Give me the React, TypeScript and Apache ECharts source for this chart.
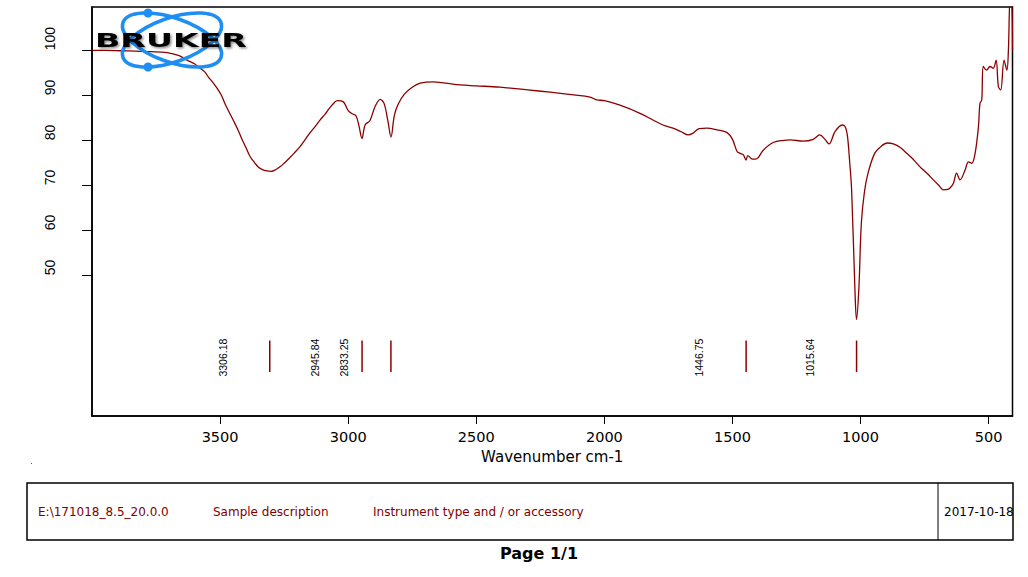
import React, { useEffect, useRef } from "react";
import * as echarts from "echarts";

// Spectrum (wavenumber cm-1 -> transmittance %)
const wavenumbers = [
  4000, 3950, 3890, 3830, 3773, 3707, 3660, 3629, 3600, 3578, 3560, 3545, 3530, 3512, 3495, 3480,
  3465, 3449, 3430, 3415, 3400, 3383, 3365, 3350, 3335, 3317, 3300, 3285, 3266, 3250, 3230, 3210,
  3188, 3170, 3150, 3130, 3110, 3090, 3075, 3060, 3043, 3020, 3000, 2985, 2970, 2958, 2946, 2934,
  2915, 2895, 2875, 2860, 2845, 2833, 2820, 2805, 2780, 2750, 2719, 2669, 2620, 2563, 2500, 2407,
  2300, 2212, 2120, 2056, 2030, 2000, 1939, 1861, 1771, 1732, 1700, 1673, 1654, 1630, 1600, 1560,
  1521, 1500, 1482, 1470, 1458, 1447, 1440, 1422, 1405, 1380, 1341, 1300, 1275, 1224, 1185, 1159,
  1139, 1123, 1100, 1072, 1060, 1051, 1043, 1035, 1022, 1016, 1007, 997, 985, 971, 945, 919,
  895, 872, 845, 820, 795, 768, 740, 716, 695, 677, 660, 651, 638, 625, 612, 592,
  579, 566, 553, 540, 534, 527, 521, 508, 495, 482, 471, 462, 453, 440, 429, 423,
  416, 410, 407,
];
const transmittance = [
  100.0, 100.0, 99.9, 99.8, 99.7, 99.5, 98.8, 97.8, 97.0, 96.0, 95.2, 94.0, 93.0, 91.6, 90.0, 88.0,
  86.3, 84.5, 82.3, 80.3, 78.5, 76.4, 75.0, 74.0, 73.5, 73.2, 73.1, 73.4, 74.1, 74.9, 76.0, 77.2,
  78.6, 80.0, 81.6, 83.0, 84.5, 85.8, 87.0, 88.0, 88.8, 88.6, 86.6, 85.9, 85.5, 83.2, 80.4, 83.4,
  84.4, 87.5, 89.1, 88.2, 84.3, 80.7, 85.5, 88.0, 90.3, 91.8, 92.7, 93.0, 92.7, 92.3, 92.1, 91.8,
  91.2, 90.7, 90.1, 89.6, 89.0, 88.8, 87.8, 86.0, 83.4, 82.7, 81.9, 81.2, 81.6, 82.6, 82.7, 82.3,
  81.7, 80.2, 77.5, 77.1, 76.8, 75.6, 76.6, 75.8, 75.9, 77.8, 79.5, 80.0, 80.1, 79.8, 80.2, 81.2,
  80.2, 79.2, 81.9, 83.4, 83.0, 80.8, 75.5, 69.0, 46.7, 40.2, 46.7, 61.6, 68.5, 72.7, 77.1, 78.7,
  79.4, 79.2, 78.4, 77.1, 75.8, 74.1, 72.6, 71.2, 70.0, 69.0, 69.1, 69.4, 70.4, 72.7, 71.2, 73.4,
  75.2, 74.9, 77.1, 83.0, 88.2, 89.0, 96.4, 95.6, 96.4, 96.0, 97.8, 91.9, 91.2, 97.8, 95.6, 100.0,
  112.0, 111.0, 100.0,
];

const peakPositions = [3306.18, 2945.84, 2833.25, 1446.75, 1015.64];
const peakLabels = ["3306.18", "2945.84", "2833.25", "1446.75", "1015.64"];

const xTicks = [3500, 3000, 2500, 2000, 1500, 1000, 500];
const yTicks = [50, 60, 70, 80, 90, 100];

const xAxisTitle = "Wavenumber cm-1";
const footerFile = "E:\\171018_8.5_20.0.0";
const footerSample = "Sample description";
const footerInstrument = "Instrument type and / or accessory";
const footerDate = "2017-10-18";
const pageLabel = "Page 1/1";
const logoText = "BRUKER";

const LINE_COLOR = "#8b0000";
const LOGO_BLUE = "#1e8ef2";
const SANS = '"DejaVu Sans", "Liberation Sans", Arial, sans-serif';
const ARIAL = '"Liberation Sans", Arial, sans-serif';

export default function App() {
  const ref = useRef<HTMLDivElement>(null);

  useEffect(() => {
    if (!ref.current) return;
    const chart = echarts.init(ref.current, null, { renderer: "svg" });

    const spectrum = wavenumbers.map((w, i) => [w, transmittance[i]]);

    const option: any = {
      animation: false,
      backgroundColor: "#ffffff",
      grid: {
        left: 92,
        right: 15.5,
        top: 7,
        bottom: 161,
        show: true,
        borderColor: "#000",
        borderWidth: 1.5,
        containLabel: false,
        outerBoundsMode: "none",
      },
      xAxis: {
        type: "value",
        inverse: true,
        min: 407,
        max: 4000,
        name: xAxisTitle,
        nameLocation: "middle",
        nameGap: 33,
        nameTextStyle: { fontFamily: SANS, fontSize: 15, color: "#000" },
        axisLine: { show: true, onZero: false, lineStyle: { color: "#000", width: 1.5 } },
        axisTick: {
          show: true,
          inside: false,
          length: 8,
          customValues: xTicks,
          lineStyle: { color: "#000", width: 1 },
        },
        axisLabel: {
          show: true,
          customValues: xTicks,
          formatter: (v: number) => String(v),
          margin: 13,
          fontFamily: SANS,
          fontSize: 14.5,
          color: "#000",
        },
        splitLine: { show: false },
      },
      yAxis: {
        type: "value",
        min: 18.73,
        max: 109.62,
        axisLine: { show: true, onZero: false, lineStyle: { color: "#000", width: 1.5 } },
        axisTick: {
          show: true,
          inside: false,
          length: 10,
          customValues: yTicks,
          lineStyle: { color: "#000", width: 1 },
        },
        axisLabel: {
          show: true,
          customValues: yTicks,
          formatter: (v: number) => String(v),
          rotate: 90,
          align: "left",
          verticalAlign: "bottom",
          margin: 35,
          fontFamily: ARIAL,
          fontSize: 14,
          color: "#000",
        },
        splitLine: { show: false },
      },
      series: [
        {
          type: "line",
          data: spectrum,
          showSymbol: false,
          smooth: 0.35,
          clip: true,
          lineStyle: { color: LINE_COLOR, width: 1.3 },
          itemStyle: { color: LINE_COLOR },
          silent: true,
          z: 2,
        },
        {
          type: "custom",
          data: peakPositions.map((p) => [p, 31.7]),
          clip: false,
          silent: true,
          z: 3,
          renderItem: (params: any, api: any) => {
            const wn = api.value(0);
            const top = api.coord([wn, 35.5]);
            const bot = api.coord([wn, 28.5]);
            const mid = api.coord([wn, 31.7]);
            return {
              type: "group",
              children: [
                {
                  type: "line",
                  shape: { x1: top[0], y1: top[1], x2: bot[0], y2: bot[1] },
                  style: { stroke: LINE_COLOR, lineWidth: 1.5 },
                },
                {
                  type: "text",
                  x: mid[0] - 47,
                  y: mid[1],
                  rotation: Math.PI / 2,
                  style: {
                    text: peakLabels[params.dataIndex],
                    font: `10.5px ${ARIAL}`,
                    fill: "#000",
                    align: "center",
                    verticalAlign: "middle",
                  },
                },
              ],
            };
          },
        },
      ],
      graphic: [
        // Bruker logo
        {
          type: "ellipse",
          x: 172,
          y: 40,
          rotation: 0.34,
          shape: { cx: 0, cy: 0, rx: 52, ry: 22 },
          style: { fill: "none", stroke: LOGO_BLUE, lineWidth: 3.5 },
          z: 10,
        },
        {
          type: "ellipse",
          x: 172,
          y: 40,
          rotation: -0.34,
          shape: { cx: 0, cy: 0, rx: 52, ry: 22 },
          style: { fill: "none", stroke: LOGO_BLUE, lineWidth: 3.5 },
          z: 10,
        },
        {
          type: "circle",
          shape: { cx: 148, cy: 13, r: 4.5 },
          style: { fill: LOGO_BLUE },
          z: 11,
        },
        {
          type: "circle",
          shape: { cx: 148, cy: 67, r: 4.5 },
          style: { fill: LOGO_BLUE },
          z: 11,
        },
        {
          type: "text",
          x: 171,
          y: 40,
          scaleX: 1.75,
          style: {
            text: logoText,
            font: `bold 19px ${SANS}`,
            fill: "#000",
            align: "center",
            verticalAlign: "middle",
            textShadowColor: "rgba(0,0,0,0.45)",
            textShadowBlur: 2,
            textShadowOffsetX: 1.5,
            textShadowOffsetY: 1.5,
          },
          z: 12,
        },
        // stray dot
        {
          type: "rect",
          shape: { x: 31, y: 463, width: 1, height: 1 },
          style: { fill: "#555" },
        },
        // footer box
        {
          type: "rect",
          shape: { x: 27, y: 483, width: 986, height: 57 },
          style: { fill: "none", stroke: "#000", lineWidth: 1.5 },
        },
        {
          type: "line",
          shape: { x1: 938, y1: 483, x2: 938, y2: 540 },
          style: { stroke: "#000", lineWidth: 1 },
        },
        {
          type: "text",
          x: 38,
          y: 512,
          style: { text: footerFile, font: `12px ${SANS}`, fill: "#800000", verticalAlign: "middle" },
        },
        {
          type: "text",
          x: 213,
          y: 512,
          style: { text: footerSample, font: `12px ${SANS}`, fill: "#800000", verticalAlign: "middle" },
        },
        {
          type: "text",
          x: 373,
          y: 512,
          style: { text: footerInstrument, font: `12px ${SANS}`, fill: "#800000", verticalAlign: "middle" },
        },
        {
          type: "text",
          x: 944,
          y: 512,
          style: { text: footerDate, font: `12px ${SANS}`, fill: "#000", verticalAlign: "middle" },
        },
        {
          type: "text",
          x: 539,
          y: 553,
          style: {
            text: pageLabel,
            font: `bold 16px ${SANS}`,
            fill: "#000",
            align: "center",
            verticalAlign: "middle",
          },
        },
      ],
    };

    chart.setOption(option);
    return () => chart.dispose();
  }, []);

  return (
    <div
      ref={ref}
      style={{ position: "fixed", left: 0, top: 0, width: 1028, height: 577, background: "#fff" }}
    />
  );
}
